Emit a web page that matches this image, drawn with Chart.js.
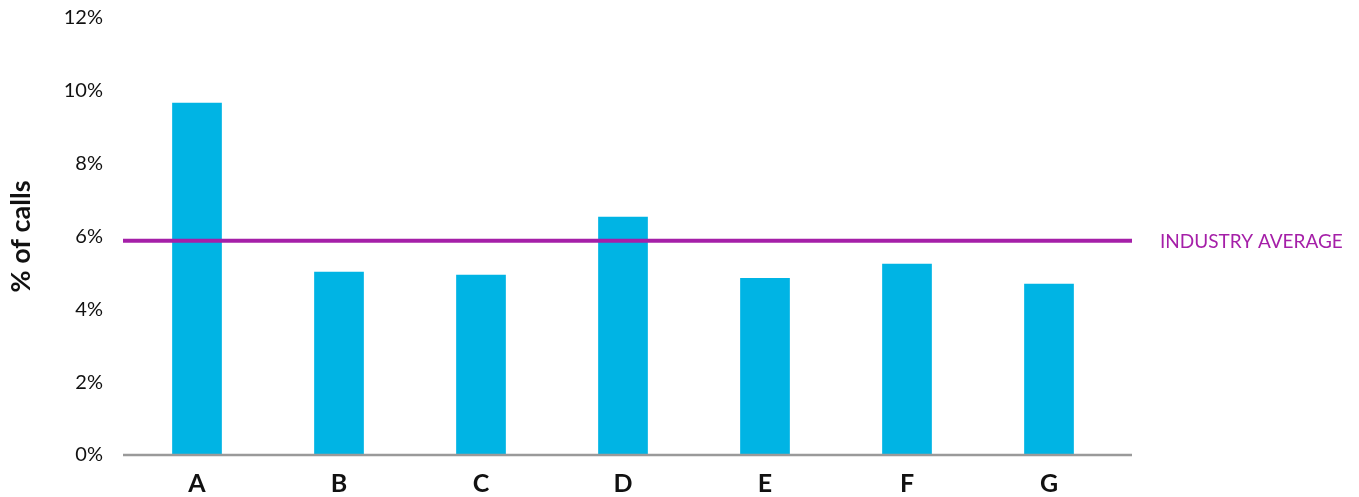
<!DOCTYPE html>
<html>
<head>
<meta charset="utf-8">
<script src="https://cdn.jsdelivr.net/npm/chart.js@4"></script>
<style>
  html, body { margin: 0; padding: 0; background: #fff; }
  #wrap { width: 1359px; height: 497px; }
</style>
</head>
<body>
<div id="wrap"><canvas id="chart"></canvas></div>
<script>
// ======= Data =======
const categories = ["A", "B", "C", "D", "E", "F", "G"];
const callShare = [9.67, 5.03, 4.95, 6.54, 4.86, 5.25, 4.70];
const industryAverage = 5.88;
const yTicks = [0, 2, 4, 6, 8, 10, 12];

const BAR_BLUE = "#00b4e4";
const PURPLE = "#a51fa8";
const AXIS_GREY = "#9a9a9a";

// ======= Plugin: baseline + industry average line =======
const refLines = {
  id: "refLines",
  afterDatasetsDraw(chart) {
    const { ctx, chartArea, scales } = chart;
    const y0 = scales.y.getPixelForValue(0);
    const yAvg = scales.y.getPixelForValue(industryAverage);
    ctx.save();
    // baseline
    ctx.strokeStyle = AXIS_GREY;
    ctx.lineWidth = 2.5;
    ctx.beginPath();
    ctx.moveTo(chartArea.left - 3, y0);
    ctx.lineTo(chartArea.right + 12, y0);
    ctx.stroke();
    // industry average
    ctx.strokeStyle = PURPLE;
    ctx.lineWidth = 4;
    ctx.beginPath();
    ctx.moveTo(chartArea.left - 3, yAvg);
    ctx.lineTo(chartArea.right + 12, yAvg);
    ctx.stroke();
    ctx.fillStyle = PURPLE;
    ctx.font = "19px Lato";
    ctx.textAlign = "left";
    ctx.textBaseline = "middle";
    ctx.fillText("INDUSTRY AVERAGE", chartArea.right + 40, yAvg + 1);
    ctx.restore();
  }
};

// ======= Chart =======
new Chart(document.getElementById("chart"), {
  type: "bar",
  data: {
    labels: categories,
    datasets: [{
      data: callShare,
      backgroundColor: BAR_BLUE,
      barPercentage: 0.35,
      categoryPercentage: 1
    }]
  },
  options: {
    responsive: true,
    maintainAspectRatio: false,
    animation: false,
    layout: { padding: { top: 0, right: 239, bottom: 0, left: 0 } },
    plugins: { legend: { display: false }, tooltip: { enabled: false } },
    scales: {
      x: {
        afterFit: (s) => { s.height = 42; },
        grid: { display: false },
        border: { display: false },
        ticks: {
          color: "#111",
          padding: 6,
          font: { family: "Lato", size: 25, weight: "bold" }
        }
      },
      y: {
        min: 0,
        max: 12,
        afterFit: (s) => { s.width = 126; s.paddingTop = 18; s.paddingBottom = 0; },
        afterBuildTicks: (s) => { s.ticks = yTicks.map((v) => ({ value: v })); },
        grid: { display: false },
        border: { display: false },
        title: {
          display: true,
          text: "% of calls",
          color: "#111",
          padding: { top: 5, bottom: 0 },
          font: { family: "Lato", size: 27, weight: "bold" }
        },
        ticks: {
          color: "#111",
          padding: 15,
          font: { family: "Lato", size: 20 },
          callback: (v) => v + "%"
        }
      }
    }
  },
  plugins: [refLines]
});
</script>
</body>
</html>
